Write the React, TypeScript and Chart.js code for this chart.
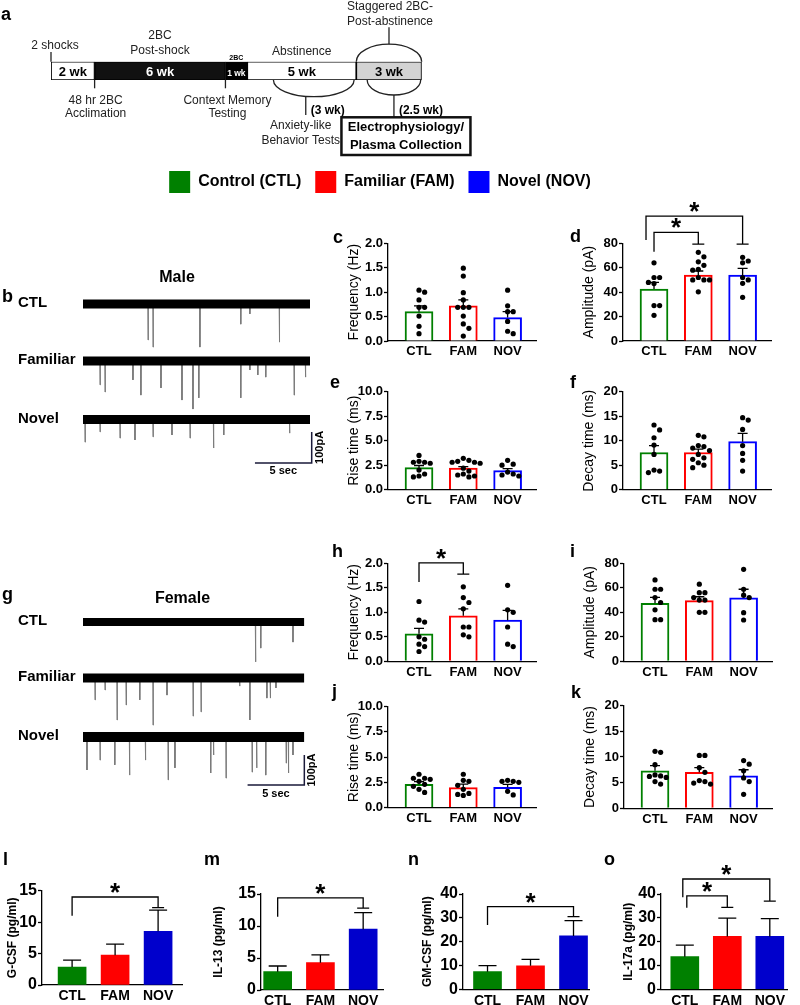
import React, { useEffect, useRef } from "react";
import { Chart, registerables } from "chart.js";

Chart.register(...registerables);

const FONT = "'Liberation Sans', Arial, Helvetica, sans-serif";
Chart.defaults.font.family = FONT;

// ---------------- data ----------------
const GROUPS = ["CTL", "FAM", "NOV"];
const OUTLINE = ["#008000", "#ff0000", "#0000ff"];
const FILLED = ["#008000", "#ff0000", "#0000cc"];

// panel a timeline
const stageWeeks = [2, 6, 1, 5, 3];
const stageLabels = ["2 wk", "6 wk", "1 wk", "5 wk", "3 wk"];
const stageFill = ["#ffffff", "#111111", "#000000", "#ffffff", "#d3d3d3"];
const stageText = ["#000", "#fff", "#fff", "#000", "#000"];

// legend
const legendLabels = ["Control (CTL)", "Familiar (FAM)", "Novel (NOV)"];

// male traces: [time s, amplitude pA]
const maleCtlSpikes = [[5.73, 116], [6.17, 139], [10.3, 139], [13.9, 65], [14.7, 32], [17.3, 123]];
const maleFamSpikes = [[1.5, 77], [1.94, 100], [4.4, 61], [5.1, 110], [6.87, 87], [8.72, 126], [9.69, 155], [10.2, 119], [13.9, 119], [14.7, 29], [15.4, 45], [16.1, 52], [18.6, 110], [19.6, 52]];
const maleNovSpikes = [[0.18, 73], [1.5, 40], [3.26, 60], [4.58, 66], [6.17, 56], [7.84, 50], [9.43, 60], [11.5, 92], [12.4, 50], [18.2, 44]];
// female traces
const femCtlSpikes = [[0.8, 12], [15.2, 133], [15.66, 87], [18.5, 67]];
const femFamSpikes = [[1.06, 73], [1.94, 40], [3.0, 140], [3.8, 90], [5.0, 73], [6.17, 157], [7.4, 57], [9.7, 127], [10.4, 113], [13.8, 27], [14.7, 140], [16.2, 67], [16.5, 67], [17.0, 33]];
const femNovSpikes = [[0.35, 110], [1.5, 77], [2.8, 93], [4.1, 127], [5.5, 77], [7.5, 143], [8.1, 103], [11.25, 120], [11.5, 60], [12.6, 137], [14.9, 117], [15.3, 103], [16.1, 127], [17.9, 87], [18.1, 120], [18.5, 60]];

// c: male frequency (Hz)
const cMean = [0.6, 0.72, 0.48];
const cSem = [0.12, 0.12, 0.12];
const cCTL = [1.04, 1.0, 0.84, 0.69, 0.69, 0.51, 0.3, 0.15];
const cFAM = [1.49, 1.33, 0.99, 0.84, 0.69, 0.69, 0.69, 0.51, 0.35, 0.26, 0.1];
const cNOV = [1.04, 0.72, 0.6, 0.6, 0.4, 0.2, 0.15];
// d: male amplitude (pA)
const dMean = [42.5, 54, 54];
const dSem = [5.5, 3.3, 5.5];
const dCTL = [64, 52, 52, 48, 47, 29, 29, 21];
const dFAM = [72.6, 68.9, 64.8, 62, 58.7, 58, 52, 50, 50, 50, 40.3];
const dNOV = [68.5, 65.5, 64, 52, 50, 47.2, 35.8];
// e: male rise time (ms)
const eMean = [2.25, 2.2, 1.95];
const eSem = [0.22, 0.15, 0.2];
const eCTL = [3.5, 2.9, 2.8, 2.8, 2.7, 2.0, 1.6, 1.4, 1.3];
const eFAM = [3.2, 3.0, 2.9, 2.8, 2.8, 2.7, 2.2, 1.9, 1.6, 1.5, 1.4, 1.3];
const eNOV = [3.0, 2.6, 2.5, 1.8, 1.6, 1.5, 1.4];
// f: male decay time (ms)
const fMean = [7.6, 7.6, 9.8];
const fSem = [1.4, 0.7, 1.7];
const fCTL = [13.2, 12.2, 10.6, 9.1, 7.2, 4.0, 3.8, 3.5];
const fFAM = [11.1, 10.8, 9.0, 8.8, 8.5, 8.0, 7.2, 6.5, 6.2, 5.5, 5.0, 4.5];
const fNOV = [14.7, 14.2, 12.3, 9.0, 7.4, 6.0, 3.8];
// h: female frequency
const hMean = [0.56, 0.93, 0.84];
const hSem = [0.11, 0.14, 0.2];
const hCTL = [1.22, 0.84, 0.8, 0.5, 0.45, 0.35, 0.3, 0.2];
const hFAM = [1.52, 1.3, 1.2, 1.07, 0.7, 0.7, 0.54, 0.5];
const hNOV = [1.55, 1.05, 1.0, 0.7, 0.35, 0.3];
// i: female amplitude
const iMean = [47.3, 49.5, 51.9];
const iSem = [4.9, 3.2, 6.9];
const iCTL = [66.4, 58.8, 58.8, 52, 48, 42, 34, 34];
const iFAM = [63, 56, 56, 52, 50, 50, 40, 40];
const iNOV = [75.1, 58.8, 54, 52, 39.7, 33.7];
// j: female rise time
const jMean = [2.3, 1.97, 2.0];
const jSem = [0.26, 0.35, 0.3];
const jCTL = [3.3, 2.9, 2.9, 2.8, 2.6, 2.3, 2.1, 1.8, 1.5];
const jFAM = [3.3, 2.7, 2.6, 2.2, 1.8, 1.4, 1.3, 1.2];
const jNOV = [2.7, 2.6, 2.6, 2.5, 1.6, 1.25];
// k: female decay time
const kMean = [7.3, 7.0, 6.3];
const kSem = [1.0, 0.9, 1.2];
const kCTL = [11.1, 10.9, 8.5, 6.5, 6.3, 6.2, 6.0, 5.2, 4.7];
const kFAM = [10.3, 10.3, 7.9, 7.0, 5.4, 5.2, 4.9, 4.7];
const kNOV = [9.3, 8.6, 7.3, 5.9, 5.2, 2.7];
// plasma cytokines (pg/ml)
const lMean = [2.85, 4.75, 8.55];
const lSem = [1.1, 1.75, 3.35];
const mMean = [2.86, 4.27, 9.5];
const mSem = [0.89, 1.23, 2.6];
const nMean = [7.4, 9.9, 22.4];
const nSem = [2.5, 2.7, 6.4];
const oMean = [13.7, 22.2, 22.2];
const oSem = [4.8, 7.7, 7.5];

// ---------------- helpers ----------------
function starAt(ctx: any, x: number, cy: number, size: number) {
  ctx.save();
  ctx.font = `bold ${size}px ${FONT}`;
  ctx.textAlign = "center";
  ctx.textBaseline = "alphabetic";
  ctx.fillStyle = "#000";
  const m = ctx.measureText("*");
  const asc = m.actualBoundingBoxAscent || size * 0.7;
  const desc = m.actualBoundingBoxDescent || -size * 0.4;
  ctx.fillText("*", x, cy + (asc - desc) / 2);
  ctx.restore();
}

function txt(ctx: any, s: string, x: number, y: number, font: string, align = "center", color = "#222") {
  ctx.save();
  ctx.font = font;
  ctx.fillStyle = color;
  ctx.textAlign = align;
  ctx.textBaseline = "alphabetic";
  ctx.fillText(s, x, y);
  ctx.restore();
}

function swarm(groups: number[][], yMax: number, plotH: number, unitPx: number) {
  const pts: any[] = [];
  const d = 5.6;
  groups.forEach((vals, gi) => {
    const placed: { o: number; y: number }[] = [];
    [...vals].sort((a, b) => b - a).forEach((v) => {
      const y = (v / yMax) * plotH;
      const cands = [0, 1, -1, 2, -2, 3, -3].map((k) => k * d);
      let o = cands.find((c) => placed.every((q) => (q.o - c) ** 2 + (q.y - y) ** 2 >= d * d * 0.85));
      if (o === undefined) o = 0;
      placed.push({ o, y });
      pts.push({ x: gi + o / unitPx, y: v });
    });
  });
  return pts;
}

type Bracket = { a: number; b: number; aOff?: number; yA: number; yTop: number; yB: number };

// ---------------- bar panel ----------------
function BarPanel(p: any) {
  const ref = useRef<HTMLCanvasElement>(null);
  const PTd = 50;
  const plotH = p.bottom - p.top;
  const areaW = (p.xMax - p.xMin) * p.unitPx;
  const left = Math.round(p.axisX - p.LW);
  const top = Math.round(p.top - PTd);
  const LW = p.axisX - left;
  const PT = p.top - top;
  const W = Math.ceil(LW + areaW + 8);
  const H = Math.ceil(PT + plotH + p.BH);
  useEffect(() => {
    const canvas = ref.current as HTMLCanvasElement;
    const lh = p.titleSize * 1.2;
    const titlePad = Math.max(0, LW - p.titleOff - lh / 2);
    const datasets: any[] = [
      {
        type: "bar",
        data: p.means.map((m: number, i: number) => ({ x: i, y: m })),
        backgroundColor: p.filled ? FILLED : "#ffffff",
        borderColor: p.filled ? FILLED : OUTLINE,
        borderWidth: p.filled ? 0 : 2,
        barThickness: 28,
        order: 2,
      },
    ];
    if (p.dots) {
      datasets.push({
        type: "scatter",
        data: swarm(p.dots, p.yMax, plotH, p.unitPx),
        pointRadius: 2.6,
        pointBackgroundColor: "#000",
        pointBorderWidth: 0,
        order: 1,
        clip: false,
      });
    }
    const overlay = {
      id: "overlay",
      afterDatasetDraw(chart: any, args: any) {
        if (args.index !== 0) return;
        const ctx = chart.ctx;
        const xs = chart.scales.x;
        const ys = chart.scales.y;
        ctx.save();
        ctx.strokeStyle = "#000";
        ctx.lineWidth = 1.3;
        p.means.forEach((m: number, i: number) => {
          const x = xs.getPixelForValue(i);
          const y0 = ys.getPixelForValue(m);
          const y1 = ys.getPixelForValue(m + p.sems[i]);
          ctx.beginPath();
          ctx.moveTo(x, y0);
          ctx.lineTo(x, y1);
          ctx.moveTo(x - p.capW / 2, y1);
          ctx.lineTo(x + p.capW / 2, y1);
          ctx.stroke();
        });
        ctx.restore();
      },
      afterDraw(chart: any) {
        const ctx = chart.ctx;
        const xs = chart.scales.x;
        const ys = chart.scales.y;
        ctx.save();
        ctx.strokeStyle = "#000";
        ctx.lineWidth = 1.3;
        (p.brackets || []).forEach((b: Bracket) => {
          const xa = xs.getPixelForValue(b.a) + (b.aOff || 0);
          const xb = xs.getPixelForValue(b.b);
          const ya = ys.getPixelForValue(b.yA);
          const yt = ys.getPixelForValue(b.yTop);
          const yb = ys.getPixelForValue(b.yB);
          ctx.beginPath();
          ctx.moveTo(xa, ya);
          ctx.lineTo(xa, yt);
          ctx.lineTo(xb, yt);
          ctx.lineTo(xb, yb);
          ctx.moveTo(xb - 6, yb);
          ctx.lineTo(xb + 6, yb);
          ctx.stroke();
          starAt(ctx, (xa + xb) / 2, yt - 9, 26);
        });
        ctx.restore();
        txt(ctx, p.letter, p.letterX - left, p.letterY - top, `bold 18px ${FONT}`, "left", "#000");
      },
    };
    const chart = new Chart(canvas, {
      type: "bar",
      data: { datasets },
      options: {
        responsive: false,
        animation: false,
        events: [],
        layout: { padding: { left: 0, top: PT, right: W - LW - areaW, bottom: H - PT - plotH - p.BH } },
        plugins: { legend: { display: false }, tooltip: { enabled: false } },
        scales: {
          x: {
            type: "linear",
            min: p.xMin,
            max: p.xMax,
            offset: false,
            afterBuildTicks: (s: any) => {
              s.ticks = GROUPS.map((_, i) => ({ value: i }));
            },
            afterFit: (s: any) => {
              s.height = p.BH;
            },
            grid: { display: false, drawTicks: false, offset: false },
            border: { display: true, color: "#000", width: 1.3 },
            ticks: {
              autoSkip: false,
              maxRotation: 0,
              minRotation: 0,
              padding: 3,
              color: "#000",
              font: { family: FONT, size: p.xSize, weight: "bold" },
              callback: (v: any) => GROUPS[v] ?? "",
            },
          },
          y: {
            type: "linear",
            min: 0,
            max: p.yMax,
            afterBuildTicks: (s: any) => {
              const t: any[] = [];
              for (let v = 0; v <= p.yMax + 1e-9; v += p.yStep) t.push({ value: v });
              s.ticks = t;
            },
            afterFit: (s: any) => {
              s.width = LW;
            },
            grid: { display: true, drawOnChartArea: false, drawTicks: true, tickLength: 4, tickWidth: 1.3, tickColor: "#000" },
            border: { display: true, color: "#000", width: 1.3 },
            ticks: {
              padding: 1,
              color: "#000",
              font: { family: FONT, size: p.tickSize, weight: "bold" },
              callback: (v: any) => Number(v).toFixed(p.dec),
            },
            title: {
              display: true,
              text: p.title,
              color: "#000",
              font: { family: FONT, size: p.titleSize, weight: p.titleBold ? "bold" : "normal", lineHeight: 1.2 },
              padding: { top: titlePad, bottom: 0 },
            },
          },
        },
      } as any,
      plugins: [overlay],
    } as any);
    return () => chart.destroy();
  }, []);
  return <canvas ref={ref} width={W} height={H} style={{ position: "absolute", left, top, width: W, height: H }} />;
}

// ---------------- timeline (panel a) ----------------
function Timeline() {
  const ref = useRef<HTMLCanvasElement>(null);
  const W = 560, H = 160;
  useEffect(() => {
    const total = stageWeeks.reduce((a, b) => a + b, 0);
    const plugin = {
      id: "timelineNotes",
      afterDatasetsDraw(chart: any) {
        const ctx = chart.ctx;
        const xs = chart.scales.x;
        const px = (w: number) => xs.getPixelForValue(w);
        const cum = [0];
        stageWeeks.forEach((w) => cum.push(cum[cum.length - 1] + w));
        const mid = (i: number) => (px(cum[i]) + px(cum[i + 1])) / 2;
        const normal = `12px ${FONT}`;
        const bold12 = `bold 12px ${FONT}`;
        stageLabels.forEach((lab, i) => {
          const segW = px(cum[i + 1]) - px(cum[i]) - 3;
          let size = 13;
          ctx.save();
          ctx.font = `bold ${size}px ${FONT}`;
          while (size > 8 && ctx.measureText(lab).width > segW) {
            size -= 0.5;
            ctx.font = `bold ${size}px ${FONT}`;
          }
          ctx.restore();
          txt(ctx, lab, mid(i), 75.8, `bold ${size}px ${FONT}`, "center", stageText[i]);
        });
        ctx.save();
        ctx.strokeStyle = "#222";
        ctx.lineWidth = 1.3;
        const line = (x1: number, y1: number, x2: number, y2: number) => {
          ctx.beginPath();
          ctx.moveTo(x1, y1);
          ctx.lineTo(x2, y2);
          ctx.stroke();
        };
        // top notes
        line(px(0), 52, px(0), 61.7);
        txt(ctx, "2 shocks", px(0) + 4, 49.3, normal);
        txt(ctx, "2BC", mid(1), 38.6, normal);
        txt(ctx, "Post-shock", mid(1), 54.3, normal);
        txt(ctx, "2BC", mid(2), 59.5, `bold 7px ${FONT}`, "center", "#000");
        txt(ctx, "Abstinence", mid(3), 55.3, normal);
        // upper ellipse over last stage
        const cx4 = mid(4);
        const rx4 = (px(cum[5]) - px(cum[4])) / 2;
        ctx.beginPath();
        ctx.ellipse(cx4, 61.7, rx4, 17.5, 0, Math.PI, 2 * Math.PI);
        ctx.stroke();
        line(cx4, 27.3, cx4, 44.2);
        txt(ctx, "Staggered 2BC-", cx4 + 1, 10.3, normal);
        txt(ctx, "Post-abstinence", cx4 + 1, 25.3, normal);
        // lower ellipse under abstinence (3 wk)
        const aL = px(cum[4] - 3.8), aR = px(cum[4] - 0.1);
        const acx = (aL + aR) / 2;
        ctx.beginPath();
        ctx.ellipse(acx, 80, (aR - aL) / 2, 16.7, 0, 0, Math.PI);
        ctx.stroke();
        const lx = acx - 8;
        line(lx, 96.5, lx, 115);
        txt(ctx, "(3 wk)", lx + 5, 113.6, bold12, "left", "#000");
        txt(ctx, "Anxiety-like", lx - 5, 129.3, normal);
        txt(ctx, "Behavior Tests", lx - 5, 143.6, normal);
        // lower ellipse under last stage (2.5 wk)
        const bL = px(cum[5] - 2.5), bR = px(cum[5]) - 1;
        const bcx = (bL + bR) / 2;
        ctx.beginPath();
        ctx.ellipse(bcx, 80, (bR - bL) / 2, 15, 0, 0, Math.PI);
        ctx.stroke();
        line(bcx, 95, bcx, 117.3);
        txt(ctx, "(2.5 wk)", bcx + 5, 113.6, bold12, "left", "#000");
        // box
        const bx = bcx + 12;
        ctx.lineWidth = 2.5;
        ctx.strokeStyle = "#111";
        ctx.strokeRect(bx - 64.5, 117.3, 129, 37.7);
        txt(ctx, "Electrophysiology/", bx, 131, `bold 13px ${FONT}`, "center", "#000");
        txt(ctx, "Plasma Collection", bx, 149.3, `bold 13px ${FONT}`, "center", "#000");
        ctx.lineWidth = 1.3;
        ctx.strokeStyle = "#222";
        // below ticks
        line(px(cum[1]), 80, px(cum[1]), 88.3);
        txt(ctx, "48 hr 2BC", px(cum[1]) + 1, 103.6, normal);
        txt(ctx, "Acclimation", px(cum[1]) + 1, 117, normal);
        line(px(cum[2]), 80, px(cum[2]), 88.3);
        txt(ctx, "Context Memory", px(cum[2]) + 2, 103.6, normal);
        txt(ctx, "Testing", px(cum[2]) + 2, 117, normal);
        ctx.restore();
        txt(ctx, "a", 1, 20, `bold 18px ${FONT}`, "left", "#000");
      },
    };
    const chart = new Chart(ref.current as HTMLCanvasElement, {
      type: "bar",
      data: {
        labels: [""],
        datasets: stageWeeks.map((w, i) => ({
          label: stageLabels[i],
          data: [w],
          backgroundColor: stageFill[i],
          borderColor: "#000",
          borderWidth: 1.2,
          borderSkipped: false,
          barPercentage: 1,
          categoryPercentage: 1,
          stack: "s",
        })),
      },
      options: {
        indexAxis: "y",
        responsive: false,
        animation: false,
        events: [],
        layout: { padding: { left: 51, top: 61.7, right: W - 421.7, bottom: H - 80 } },
        plugins: { legend: { display: false }, tooltip: { enabled: false } },
        scales: {
          x: { type: "linear", stacked: true, min: 0, max: total, display: false },
          y: { type: "category", stacked: true, display: false },
        },
      } as any,
      plugins: [plugin],
    } as any);
    return () => chart.destroy();
  }, []);
  return <canvas ref={ref} width={W} height={H} style={{ position: "absolute", left: 0, top: 0, width: W, height: H }} />;
}

// ---------------- legend ----------------
function Legend() {
  const ref = useRef<HTMLCanvasElement>(null);
  const W = 460, H = 80;
  useEffect(() => {
    const chart = new Chart(ref.current as HTMLCanvasElement, {
      type: "bar",
      data: {
        labels: [""],
        datasets: legendLabels.map((l, i) => ({ label: l, data: [], backgroundColor: OUTLINE[i], borderWidth: 0 })),
      },
      options: {
        responsive: false,
        animation: false,
        events: [],
        scales: { x: { display: false }, y: { display: false } },
        plugins: {
          tooltip: { enabled: false },
          legend: {
            display: true,
            position: "top",
            labels: { boxWidth: 21, boxHeight: 22, padding: 14, color: "#000", font: { family: FONT, size: 16, weight: "bold" } },
          },
        },
      } as any,
    } as any);
    return () => chart.destroy();
  }, []);
  return <canvas ref={ref} width={W} height={H} style={{ position: "absolute", left: 150, top: 157, width: W, height: H }} />;
}

// ---------------- traces ----------------
const PX_PER_SEC = 11.35;
function Trace(p: any) {
  const ref = useRef<HTMLCanvasElement>(null);
  const W = 345, ABOVE = 45, BELOW = 65, H = ABOVE + BELOW;
  const top = Math.round(p.baseY - ABOVE);
  const above = p.baseY - top;
  const below = H - above;
  const x0 = 83;
  const x1 = x0 + p.tMax * PX_PER_SEC;
  useEffect(() => {
    const spikeData: any[] = [];
    p.spikes.forEach(([t, a]: number[]) => {
      spikeData.push({ x: t - 0.02, y: 0 }, { x: t, y: -a }, { x: t + 0.03, y: 0 });
    });
    const overlay = {
      id: "traceNotes",
      afterDraw(chart: any) {
        const ctx = chart.ctx;
        const xs = chart.scales.x;
        const ys = chart.scales.y;
        const by = ys.getPixelForValue(0);
        ctx.save();
        ctx.fillStyle = "#000";
        ctx.font = `bold 15px ${FONT}`;
        ctx.textAlign = "left";
        ctx.textBaseline = "middle";
        ctx.fillText(p.label, 18, by - 1);
        ctx.restore();
        if (p.header) txt(ctx, p.header.text, p.header.x, p.header.y - top, `bold 16px ${FONT}`, "center", "#000");
        if (p.letter) txt(ctx, p.letter.text, p.letter.x, p.letter.y - top, `bold 18px ${FONT}`, "left", "#000");
        if (p.scaleBar) {
          const sb = p.scaleBar;
          const xa = xs.getPixelForValue(sb.t0);
          const xb = xs.getPixelForValue(sb.t1);
          const yl = ys.getPixelForValue(sb.yLow);
          const yh = ys.getPixelForValue(sb.yHigh);
          ctx.save();
          ctx.strokeStyle = "#1a1a3a";
          ctx.lineWidth = 1.5;
          ctx.beginPath();
          ctx.moveTo(xa, yl);
          ctx.lineTo(xb, yl);
          ctx.lineTo(xb, yh);
          ctx.stroke();
          ctx.fillStyle = "#000";
          ctx.font = `bold 11px ${FONT}`;
          ctx.textAlign = "center";
          ctx.textBaseline = "top";
          ctx.fillText("5 sec", (xa + xb) / 2, yl + 3);
          ctx.translate(xb + 8, (yl + yh) / 2);
          ctx.rotate(-Math.PI / 2);
          ctx.textBaseline = "middle";
          ctx.fillText("100pA", 0, 0);
          ctx.restore();
        }
      },
    };
    const chart = new Chart(ref.current as HTMLCanvasElement, {
      type: "line",
      data: {
        datasets: [
          { data: [{ x: 0, y: 0 }, { x: p.tMax, y: 0 }], borderColor: "#000", borderWidth: p.band, pointRadius: 0, order: 0, borderCapStyle: "butt" },
          { data: spikeData, borderColor: "#7a7a7a", borderWidth: 1, pointRadius: 0, order: 1 },
        ],
      },
      options: {
        responsive: false,
        animation: false,
        events: [],
        layout: { padding: { left: x0, right: W - x1, top: 0, bottom: 0 } },
        plugins: { legend: { display: false }, tooltip: { enabled: false } },
        scales: {
          x: { type: "linear", min: 0, max: p.tMax, display: false },
          y: { type: "linear", min: -below / p.pxPerPA, max: above / p.pxPerPA, display: false },
        },
      } as any,
      plugins: [overlay],
    } as any);
    return () => chart.destroy();
  }, []);
  return <canvas ref={ref} width={W} height={H} style={{ position: "absolute", left: 0, top, width: W, height: H }} />;
}

// ---------------- app ----------------
const EPHYS = {
  unitPx: 44.3, xMin: -0.7, xMax: 2.65, LW: 60, BH: 24, filled: false,
  tickSize: 13, xSize: 13, titleSize: 14, titleBold: false, titleOff: 34, capW: 10,
};
const CYTO = { BH: 20, filled: true, tickSize: 16, xSize: 14, titleSize: 12, titleBold: true, capW: 18, yStep: 5, dec: 0 };

export default function App() {
  useEffect(() => {
    document.body.style.margin = "0";
  }, []);
  return (
    <div style={{ position: "relative", width: 800, height: 1005, background: "#fff", overflow: "hidden" }}>
      <Timeline />
      <Legend />
      <Trace label="CTL" baseY={304} band={9} spikes={maleCtlSpikes} tMax={20} pxPerPA={0.31} header={{ text: "Male", x: 177, y: 281.7 }} letter={{ text: "b", x: 2, y: 302 }} />
      <Trace label="Familiar" baseY={361} band={9} spikes={maleFamSpikes} tMax={20} pxPerPA={0.31} />
      <Trace label="Novel" baseY={419.5} band={9} spikes={maleNovSpikes} tMax={20} pxPerPA={0.31} scaleBar={{ t0: 15.15, t1: 20.15, yLow: -140, yHigh: -40 }} />
      <Trace label="CTL" baseY={622} band={8} spikes={femCtlSpikes} tMax={19.5} pxPerPA={0.3} header={{ text: "Female", x: 182.5, y: 602.7 }} letter={{ text: "g", x: 2, y: 600 }} />
      <Trace label="Familiar" baseY={678} band={9} spikes={femFamSpikes} tMax={19.5} pxPerPA={0.3} />
      <Trace label="Novel" baseY={737} band={10} spikes={femNovSpikes} tMax={19.5} pxPerPA={0.3} scaleBar={{ t0: 14.5, t1: 19.5, yLow: -160, yHigh: -60 }} />

      <BarPanel {...EPHYS} letter="c" letterX={333} letterY={243} axisX={388} top={243.3} bottom={341} yMax={2} yStep={0.5} dec={1} title="Frequency (Hz)" means={cMean} sems={cSem} dots={[cCTL, cFAM, cNOV]} brackets={[]} />
      <BarPanel {...EPHYS} letter="d" letterX={570} letterY={242} axisX={623} top={243.3} bottom={341} yMax={80} yStep={20} dec={0} title="Amplitude (pA)" means={dMean} sems={dSem} dots={[dCTL, dFAM, dNOV]}
        brackets={[{ a: 0, b: 1, yA: 73.1, yTop: 89, yB: 79.4 }, { a: 0, b: 2, aOff: -8, yA: 82.7, yTop: 102.3, yB: 79.4 }]} />
      <BarPanel {...EPHYS} letter="e" letterX={330} letterY={388} axisX={388} top={391.7} bottom={489.7} yMax={10} yStep={2.5} dec={1} title="Rise time (ms)" means={eMean} sems={eSem} dots={[eCTL, eFAM, eNOV]} brackets={[]} />
      <BarPanel {...EPHYS} letter="f" letterX={570} letterY={388} axisX={623} top={391.7} bottom={489.7} yMax={20} yStep={5} dec={0} title="Decay time (ms)" means={fMean} sems={fSem} dots={[fCTL, fFAM, fNOV]} brackets={[]} />

      <BarPanel {...EPHYS} letter="h" letterX={332} letterY={557} axisX={388} top={563.3} bottom={661.3} yMax={2} yStep={0.5} dec={1} title="Frequency (Hz)" means={hMean} sems={hSem} dots={[hCTL, hFAM, hNOV]}
        brackets={[{ a: 0, b: 1, yA: 1.62, yTop: 2.01, yB: 1.78 }]} />
      <BarPanel {...EPHYS} letter="i" letterX={570} letterY={557} axisX={624} top={563.3} bottom={661.3} yMax={80} yStep={20} dec={0} title="Amplitude (pA)" means={iMean} sems={iSem} dots={[iCTL, iFAM, iNOV]} brackets={[]} />
      <BarPanel {...EPHYS} letter="j" letterX={332} letterY={697} axisX={388} top={706.7} bottom={807.5} yMax={10} yStep={2.5} dec={1} title="Rise time (ms)" means={jMean} sems={jSem} dots={[jCTL, jFAM, jNOV]} brackets={[]} />
      <BarPanel {...EPHYS} letter="k" letterX={571} letterY={698} axisX={624} top={705.7} bottom={808.2} yMax={20} yStep={5} dec={0} title="Decay time (ms)" means={kMean} sems={kSem} dots={[kCTL, kFAM, kNOV]} brackets={[]} />

      <BarPanel {...CYTO} letter="l" letterX={3} letterY={865} axisX={42} LW={42} titleOff={29} top={890.7} bottom={985} unitPx={43} xMin={-0.7} xMax={2.56} yMax={15} title="G-CSF (pg/ml)" means={lMean} sems={lSem}
        brackets={[{ a: 0, b: 2, yA: 11, yTop: 14, yB: 12.3 }]} />
      <BarPanel {...CYTO} letter="m" letterX={204} letterY={865} axisX={261} LW={60} titleOff={42} top={894} bottom={990} unitPx={42.75} xMin={-0.39} xMax={2.47} yMax={15} title="IL-13 (pg/ml)" means={mMean} sems={mSem}
        brackets={[{ a: 0, b: 2, yA: 11.45, yTop: 14.4, yB: 12.8 }]} />
      <BarPanel {...CYTO} letter="n" letterX={408} letterY={865} axisX={463} LW={60} titleOff={35.5} top={894} bottom={989.3} unitPx={43} xMin={-0.57} xMax={2.38} yMax={40} yStep={10} title="GM-CSF (pg/ml)" means={nMean} sems={nSem}
        brackets={[{ a: 0, b: 2, yA: 27, yTop: 34.7, yB: 30.5 }]} />
      <BarPanel {...CYTO} letter="o" letterX={604} letterY={865} axisX={661} LW={60} titleOff={32} top={894} bottom={989.3} unitPx={42.5} xMin={-0.56} xMax={2.42} yMax={40} yStep={10} title="IL-17a (pg/ml)" means={oMean} sems={oSem}
        brackets={[{ a: 0, b: 1, aOff: 2, yA: 34.2, yTop: 39.2, yB: 34.4 }, { a: 0, b: 2, aOff: -2, yA: 38.6, yTop: 46.3, yB: 37 }]} />
    </div>
  );
}
